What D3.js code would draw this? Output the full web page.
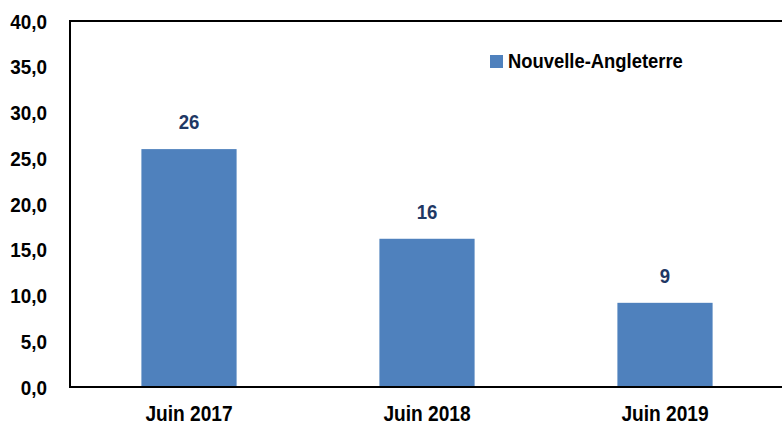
<!DOCTYPE html>
<html>
<head>
<meta charset="utf-8">
<script src="https://cdn.jsdelivr.net/npm/d3@7"></script>
<style>
  body { margin: 0; background: #fff; }
  svg text { font-family: "Liberation Sans", Arial, sans-serif; font-weight: bold; }
</style>
</head>
<body>
<div id="chart"></div>
<script>
// data
const categories = ["Juin 2017", "Juin 2018", "Juin 2019"]
const values = [26.0, 16.2, 9.2]
const seriesName = "Nouvelle-Angleterre"
const yTicks = [0, 5, 10, 15, 20, 25, 30, 35, 40]

const WIDTH = 782, HEIGHT = 425
const MARGIN = { top: 21, right: -2, bottom: 38, left: 70 }

const svg = d3.select("#chart").append("svg")
  .attr("width", WIDTH)
  .attr("height", HEIGHT)

// narrow the bold text a little, the original font is condensed
function condense(sel, k) {
  sel.each(function () {
    const len = this.getComputedTextLength()
    d3.select(this)
      .attr("textLength", len * k)
      .attr("lengthAdjust", "spacingAndGlyphs")
  })
}

const x = d3.scaleBand()
  .domain(categories)
  .range([MARGIN.left, WIDTH - MARGIN.right])
  .paddingInner(0.6)
  .paddingOuter(0.3)

const y = d3.scaleLinear()
  .domain([0, 40])
  .range([HEIGHT - MARGIN.bottom, MARGIN.top])

const locale = d3.formatLocale({ decimal: ",", thousands: " ", grouping: [3], currency: ["", " €"] })
const fmt = locale.format(".1f")

// bars
svg.selectAll("rect.bar")
  .data(values)
  .enter().append("rect")
  .attr("class", "bar")
  .attr("x", (d, i) => x(categories[i]))
  .attr("y", d => y(d))
  .attr("width", x.bandwidth())
  .attr("height", d => y(0) - y(d))
  .attr("fill", "#4F81BD")

// value labels
svg.selectAll("text.val")
  .data(values)
  .enter().append("text")
  .attr("class", "val")
  .attr("x", (d, i) => x(categories[i]) + x.bandwidth() / 2)
  .attr("y", d => y(d) - 20)
  .attr("text-anchor", "middle")
  .attr("font-size", "20px")
  .attr("fill", "#1F3864")
  .text(d => d3.format(".0f")(d))
  .call(condense, 0.93)

// y axis
const yAxis = svg.append("g")
  .attr("transform", `translate(${MARGIN.left},0)`)
  .call(d3.axisLeft(y).tickValues(yTicks).tickFormat(fmt).tickSize(0).tickPadding(23))
yAxis.select(".domain").remove()
yAxis.selectAll("text")
  .attr("font-size", "21px")
  .attr("font-family", "Liberation Sans, Arial, sans-serif")
  .attr("font-weight", "bold")
  .attr("fill", "#000")
  .attr("dy", "0.34em")
  .call(condense, 0.9)

// x axis
const xAxis = svg.append("g")
  .attr("transform", `translate(0,${y(0)})`)
  .call(d3.axisBottom(x).tickSize(0).tickPadding(18))
xAxis.select(".domain").remove()
xAxis.selectAll("text")
  .attr("font-size", "22px")
  .attr("font-family", "Liberation Sans, Arial, sans-serif")
  .attr("font-weight", "bold")
  .attr("fill", "#000")
  .call(condense, 0.87)

// frame lines (left, bottom, top)
const frame = svg.append("g")
  .attr("stroke", "#000")
  .attr("stroke-width", 2)
frame.append("line")
  .attr("x1", MARGIN.left).attr("x2", MARGIN.left)
  .attr("y1", y(40)).attr("y2", y(0) + 1)
frame.append("line")
  .attr("x1", MARGIN.left).attr("x2", WIDTH)
  .attr("y1", y(0)).attr("y2", y(0))
frame.append("line")
  .attr("x1", MARGIN.left - 1).attr("x2", WIDTH)
  .attr("y1", y(40)).attr("y2", y(40))

// legend
const legend = svg.append("g").attr("transform", "translate(490,55)")
legend.append("rect")
  .attr("width", 13).attr("height", 13)
  .attr("fill", "#4F81BD")
legend.append("text")
  .attr("x", 18).attr("y", 12.5)
  .attr("font-size", "20px")
  .attr("fill", "#000")
  .text(seriesName)
  .call(condense, 0.92)
</script>
</body>
</html>
